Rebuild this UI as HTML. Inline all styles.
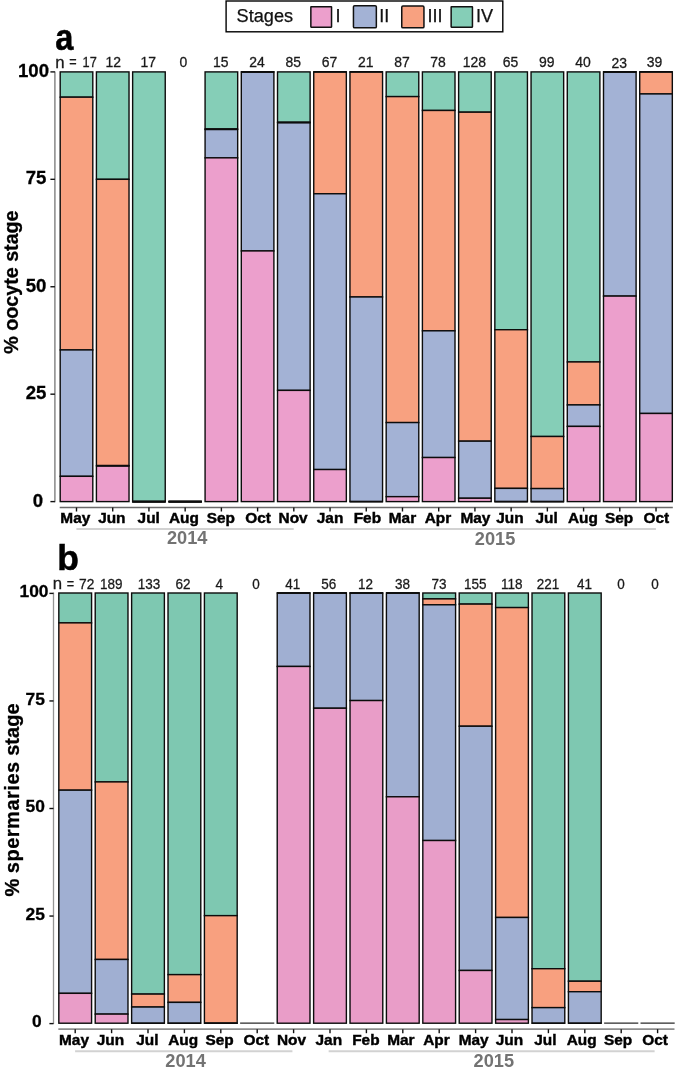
<!DOCTYPE html>
<html lang="en">
<head>
<meta charset="utf-8">
<title>Oocyte and spermaries stages</title>
<style>
html,body{margin:0;padding:0;background:#fff;}
body{width:675px;height:1074px;overflow:hidden;}
svg{display:block;}
</style>
</head>
<body>
<svg width="675" height="1074" viewBox="0 0 675 1074" font-family="'Liberation Sans', Arial, sans-serif">
<rect width="675" height="1074" fill="#fff"/>
<g id="legend">
<rect x="226.1" y="1.0" width="276.7" height="30.8" fill="#fff" stroke="#000" stroke-width="1.4"/>
<text x="236.6" y="22.3" font-size="18.15" fill="#111" stroke="#111" stroke-width="0.25">Stages</text>
<rect x="310.85" y="6.65" width="20.7" height="20.5" rx="0.3" fill="#EC9FCC" stroke="#111" stroke-width="1.5"/>
<text x="335.6" y="22.3" font-size="18.15" fill="#111" stroke="#111" stroke-width="0.25">I</text>
<rect x="353.45" y="5.65" width="22.9" height="22.2" rx="1.2" fill="#A3B2D5" stroke="#111" stroke-width="1.5"/>
<text x="379.3" y="22.3" font-size="18.15" fill="#111" stroke="#111" stroke-width="0.25">II</text>
<rect x="401.75" y="5.95" width="22.2" height="21.9" rx="1.2" fill="#F8A180" stroke="#111" stroke-width="1.5"/>
<text x="427.4" y="22.3" font-size="18.15" fill="#111" stroke="#111" stroke-width="0.25">III</text>
<rect x="451.15" y="6.65" width="21.3" height="20.5" rx="0.3" fill="#85CEB7" stroke="#111" stroke-width="1.5"/>
<text x="475.9" y="22.3" font-size="18.15" fill="#111" stroke="#111" stroke-width="0.25">IV</text>
</g>
<g id="panel-a">
<text transform="translate(55.3,50.1) scale(0.9,1)" font-size="36.2" font-weight="bold" fill="#000" stroke="#000" stroke-width="0.5">a</text>
<line x1="54.9" y1="71.4" x2="54.9" y2="502.3" stroke="#7f7f7f" stroke-width="1.4"/>
<line x1="50.4" y1="501.60" x2="54.9" y2="501.60" stroke="#111" stroke-width="1.4"/>
<text x="38.00" y="506.60" font-size="18.6" font-weight="bold" text-anchor="middle" fill="#000" stroke="#000" stroke-width="0.3">0</text>
<line x1="50.4" y1="394.18" x2="54.9" y2="394.18" stroke="#111" stroke-width="1.4"/>
<text x="36.00" y="399.18" font-size="18.6" font-weight="bold" text-anchor="middle" fill="#000" stroke="#000" stroke-width="0.3">25</text>
<line x1="50.4" y1="286.75" x2="54.9" y2="286.75" stroke="#111" stroke-width="1.4"/>
<text x="36.00" y="291.75" font-size="18.6" font-weight="bold" text-anchor="middle" fill="#000" stroke="#000" stroke-width="0.3">50</text>
<line x1="50.4" y1="179.32" x2="54.9" y2="179.32" stroke="#111" stroke-width="1.4"/>
<text x="36.00" y="184.32" font-size="18.6" font-weight="bold" text-anchor="middle" fill="#000" stroke="#000" stroke-width="0.3">75</text>
<line x1="50.4" y1="71.90" x2="54.9" y2="71.90" stroke="#111" stroke-width="1.4"/>
<text x="33.50" y="76.90" font-size="18.6" font-weight="bold" text-anchor="middle" fill="#000" stroke="#000" stroke-width="0.3">100</text>
<text transform="translate(17.9,282.1) rotate(-90) scale(0.9563,1)" font-size="20.6" font-weight="bold" text-anchor="middle" fill="#000" stroke="#000" stroke-width="0.3">% oocyte stage</text>
<line x1="59.70" y1="507.5" x2="672.82" y2="507.5" stroke="#6a6a6a" stroke-width="1.3"/>
<line x1="76.50" y1="507.5" x2="76.50" y2="511.5" stroke="#111" stroke-width="1.4"/>
<text x="75.30" y="522.6" font-size="15.4" font-weight="bold" text-anchor="middle" fill="#000" stroke="#000" stroke-width="0.45">May</text>
<line x1="112.72" y1="507.5" x2="112.72" y2="511.5" stroke="#111" stroke-width="1.4"/>
<text x="111.82" y="522.6" font-size="15.4" font-weight="bold" text-anchor="middle" fill="#000" stroke="#000" stroke-width="0.45">Jun</text>
<line x1="148.94" y1="507.5" x2="148.94" y2="511.5" stroke="#111" stroke-width="1.4"/>
<text x="148.74" y="522.6" font-size="15.4" font-weight="bold" text-anchor="middle" fill="#000" stroke="#000" stroke-width="0.45">Jul</text>
<line x1="185.16" y1="507.5" x2="185.16" y2="511.5" stroke="#111" stroke-width="1.4"/>
<text x="183.96" y="522.6" font-size="15.4" font-weight="bold" text-anchor="middle" fill="#000" stroke="#000" stroke-width="0.45">Aug</text>
<line x1="221.38" y1="507.5" x2="221.38" y2="511.5" stroke="#111" stroke-width="1.4"/>
<text x="220.88" y="522.6" font-size="15.4" font-weight="bold" text-anchor="middle" fill="#000" stroke="#000" stroke-width="0.45">Sep</text>
<line x1="257.60" y1="507.5" x2="257.60" y2="511.5" stroke="#111" stroke-width="1.4"/>
<text x="258.10" y="522.6" font-size="15.4" font-weight="bold" text-anchor="middle" fill="#000" stroke="#000" stroke-width="0.45">Oct</text>
<line x1="293.82" y1="507.5" x2="293.82" y2="511.5" stroke="#111" stroke-width="1.4"/>
<text x="293.12" y="522.6" font-size="15.4" font-weight="bold" text-anchor="middle" fill="#000" stroke="#000" stroke-width="0.45">Nov</text>
<line x1="330.04" y1="507.5" x2="330.04" y2="511.5" stroke="#111" stroke-width="1.4"/>
<text x="330.04" y="522.6" font-size="15.4" font-weight="bold" text-anchor="middle" fill="#000" stroke="#000" stroke-width="0.45">Jan</text>
<line x1="366.26" y1="507.5" x2="366.26" y2="511.5" stroke="#111" stroke-width="1.4"/>
<text x="367.36" y="522.6" font-size="15.4" font-weight="bold" text-anchor="middle" fill="#000" stroke="#000" stroke-width="0.45">Feb</text>
<line x1="402.48" y1="507.5" x2="402.48" y2="511.5" stroke="#111" stroke-width="1.4"/>
<text x="402.48" y="522.6" font-size="15.4" font-weight="bold" text-anchor="middle" fill="#000" stroke="#000" stroke-width="0.45">Mar</text>
<line x1="438.70" y1="507.5" x2="438.70" y2="511.5" stroke="#111" stroke-width="1.4"/>
<text x="438.00" y="522.6" font-size="15.4" font-weight="bold" text-anchor="middle" fill="#000" stroke="#000" stroke-width="0.45">Apr</text>
<line x1="474.92" y1="507.5" x2="474.92" y2="511.5" stroke="#111" stroke-width="1.4"/>
<text x="475.42" y="522.6" font-size="15.4" font-weight="bold" text-anchor="middle" fill="#000" stroke="#000" stroke-width="0.45">May</text>
<line x1="511.14" y1="507.5" x2="511.14" y2="511.5" stroke="#111" stroke-width="1.4"/>
<text x="509.94" y="522.6" font-size="15.4" font-weight="bold" text-anchor="middle" fill="#000" stroke="#000" stroke-width="0.45">Jun</text>
<line x1="547.36" y1="507.5" x2="547.36" y2="511.5" stroke="#111" stroke-width="1.4"/>
<text x="546.66" y="522.6" font-size="15.4" font-weight="bold" text-anchor="middle" fill="#000" stroke="#000" stroke-width="0.45">Jul</text>
<line x1="583.58" y1="507.5" x2="583.58" y2="511.5" stroke="#111" stroke-width="1.4"/>
<text x="582.88" y="522.6" font-size="15.4" font-weight="bold" text-anchor="middle" fill="#000" stroke="#000" stroke-width="0.45">Aug</text>
<line x1="619.80" y1="507.5" x2="619.80" y2="511.5" stroke="#111" stroke-width="1.4"/>
<text x="619.10" y="522.6" font-size="15.4" font-weight="bold" text-anchor="middle" fill="#000" stroke="#000" stroke-width="0.45">Sep</text>
<line x1="656.02" y1="507.5" x2="656.02" y2="511.5" stroke="#111" stroke-width="1.4"/>
<text x="656.32" y="522.6" font-size="15.4" font-weight="bold" text-anchor="middle" fill="#000" stroke="#000" stroke-width="0.45">Oct</text>
<line x1="76.40" y1="529.0" x2="293.72" y2="529.0" stroke="#d2d2d2" stroke-width="1.9"/>
<text x="187.16" y="544.3" font-size="18.2" font-weight="bold" text-anchor="middle" fill="#737373">2014</text>
<line x1="329.94" y1="529.0" x2="655.92" y2="529.0" stroke="#d2d2d2" stroke-width="1.9"/>
<text x="495.03" y="545.0999999999999" font-size="18.2" font-weight="bold" text-anchor="middle" fill="#737373">2015</text>
<text y="67.3" font-size="15" fill="#1a1a1a" stroke="#1a1a1a" stroke-width="0.3"><tspan x="55.2" dy="0.6" font-size="16.8">n </tspan><tspan x="69.2" dy="-0.6" textLength="7.4" lengthAdjust="spacingAndGlyphs">=</tspan><tspan> </tspan><tspan x="82.6" textLength="14.2" lengthAdjust="spacingAndGlyphs">17</tspan></text>
<rect x="60.20" y="71.90" width="32.60" height="25.28" fill="#85CEB7" stroke="#0c0c0c" stroke-width="1.4"/>
<rect x="60.20" y="97.18" width="32.60" height="252.76" fill="#F8A180" stroke="#0c0c0c" stroke-width="1.4"/>
<rect x="60.20" y="349.94" width="32.60" height="126.38" fill="#A3B2D5" stroke="#0c0c0c" stroke-width="1.4"/>
<rect x="60.20" y="476.32" width="32.60" height="25.28" fill="#EC9FCC" stroke="#0c0c0c" stroke-width="1.4"/>
<text transform="translate(113.22,67.30) scale(0.93,1)" font-size="15" text-anchor="middle" fill="#1a1a1a" stroke="#1a1a1a" stroke-width="0.3">12</text>
<rect x="96.42" y="71.90" width="32.60" height="107.43" fill="#85CEB7" stroke="#0c0c0c" stroke-width="1.4"/>
<rect x="96.42" y="179.32" width="32.60" height="286.47" fill="#F8A180" stroke="#0c0c0c" stroke-width="1.4"/>
<rect x="96.42" y="465.79" width="32.60" height="35.81" fill="#EC9FCC" stroke="#0c0c0c" stroke-width="1.4"/>
<line x1="96.07" y1="465.79" x2="129.37" y2="465.79" stroke="#0c0c0c" stroke-width="1.9"/>
<text transform="translate(148.34,67.30) scale(0.93,1)" font-size="15" text-anchor="middle" fill="#1a1a1a" stroke="#1a1a1a" stroke-width="0.3">17</text>
<rect x="132.64" y="71.90" width="32.60" height="429.70" fill="#85CEB7" stroke="#0c0c0c" stroke-width="1.4"/>
<line x1="132.29" y1="501.60" x2="165.59" y2="501.60" stroke="#0c0c0c" stroke-width="1.9"/>
<line x1="132.29" y1="501.60" x2="165.59" y2="501.60" stroke="#0c0c0c" stroke-width="1.9"/>
<line x1="132.29" y1="501.60" x2="165.59" y2="501.60" stroke="#0c0c0c" stroke-width="1.9"/>
<text transform="translate(183.36,67.30) scale(0.93,1)" font-size="15" text-anchor="middle" fill="#1a1a1a" stroke="#1a1a1a" stroke-width="0.3">0</text>
<line x1="168.51" y1="501.60" x2="201.81" y2="501.60" stroke="#0c0c0c" stroke-width="1.9"/>
<line x1="168.51" y1="501.60" x2="201.81" y2="501.60" stroke="#0c0c0c" stroke-width="1.9"/>
<line x1="168.51" y1="501.60" x2="201.81" y2="501.60" stroke="#0c0c0c" stroke-width="1.9"/>
<line x1="168.51" y1="501.60" x2="201.81" y2="501.60" stroke="#0c0c0c" stroke-width="1.9"/>
<text transform="translate(220.78,67.30) scale(0.93,1)" font-size="15" text-anchor="middle" fill="#1a1a1a" stroke="#1a1a1a" stroke-width="0.3">15</text>
<rect x="205.08" y="71.90" width="32.60" height="57.29" fill="#85CEB7" stroke="#0c0c0c" stroke-width="1.4"/>
<rect x="205.08" y="129.19" width="32.60" height="28.65" fill="#A3B2D5" stroke="#0c0c0c" stroke-width="1.4"/>
<rect x="205.08" y="157.84" width="32.60" height="343.76" fill="#EC9FCC" stroke="#0c0c0c" stroke-width="1.4"/>
<line x1="204.73" y1="129.19" x2="238.03" y2="129.19" stroke="#0c0c0c" stroke-width="1.9"/>
<text transform="translate(257.00,67.30) scale(0.93,1)" font-size="15" text-anchor="middle" fill="#1a1a1a" stroke="#1a1a1a" stroke-width="0.3">24</text>
<rect x="241.30" y="71.90" width="32.60" height="179.04" fill="#A3B2D5" stroke="#0c0c0c" stroke-width="1.4"/>
<rect x="241.30" y="250.94" width="32.60" height="250.66" fill="#EC9FCC" stroke="#0c0c0c" stroke-width="1.4"/>
<line x1="240.95" y1="71.90" x2="274.25" y2="71.90" stroke="#0c0c0c" stroke-width="1.9"/>
<line x1="240.95" y1="71.90" x2="274.25" y2="71.90" stroke="#0c0c0c" stroke-width="1.9"/>
<text transform="translate(293.22,67.30) scale(0.93,1)" font-size="15" text-anchor="middle" fill="#1a1a1a" stroke="#1a1a1a" stroke-width="0.3">85</text>
<rect x="277.52" y="71.90" width="32.60" height="50.55" fill="#85CEB7" stroke="#0c0c0c" stroke-width="1.4"/>
<rect x="277.52" y="122.45" width="32.60" height="267.93" fill="#A3B2D5" stroke="#0c0c0c" stroke-width="1.4"/>
<rect x="277.52" y="390.38" width="32.60" height="111.22" fill="#EC9FCC" stroke="#0c0c0c" stroke-width="1.4"/>
<line x1="277.17" y1="122.45" x2="310.47" y2="122.45" stroke="#0c0c0c" stroke-width="1.9"/>
<text transform="translate(329.44,67.30) scale(0.93,1)" font-size="15" text-anchor="middle" fill="#1a1a1a" stroke="#1a1a1a" stroke-width="0.3">67</text>
<rect x="313.74" y="71.90" width="32.60" height="121.86" fill="#F8A180" stroke="#0c0c0c" stroke-width="1.4"/>
<rect x="313.74" y="193.76" width="32.60" height="275.78" fill="#A3B2D5" stroke="#0c0c0c" stroke-width="1.4"/>
<rect x="313.74" y="469.53" width="32.60" height="32.07" fill="#EC9FCC" stroke="#0c0c0c" stroke-width="1.4"/>
<line x1="313.39" y1="71.90" x2="346.69" y2="71.90" stroke="#0c0c0c" stroke-width="1.9"/>
<text transform="translate(365.66,67.30) scale(0.93,1)" font-size="15" text-anchor="middle" fill="#1a1a1a" stroke="#1a1a1a" stroke-width="0.3">21</text>
<rect x="349.96" y="71.90" width="32.60" height="225.08" fill="#F8A180" stroke="#0c0c0c" stroke-width="1.4"/>
<rect x="349.96" y="296.98" width="32.60" height="204.62" fill="#A3B2D5" stroke="#0c0c0c" stroke-width="1.4"/>
<line x1="349.61" y1="71.90" x2="382.91" y2="71.90" stroke="#0c0c0c" stroke-width="1.9"/>
<line x1="349.61" y1="501.60" x2="382.91" y2="501.60" stroke="#0c0c0c" stroke-width="1.9"/>
<text transform="translate(401.88,67.30) scale(0.93,1)" font-size="15" text-anchor="middle" fill="#1a1a1a" stroke="#1a1a1a" stroke-width="0.3">87</text>
<rect x="386.18" y="71.90" width="32.60" height="24.70" fill="#85CEB7" stroke="#0c0c0c" stroke-width="1.4"/>
<rect x="386.18" y="96.60" width="32.60" height="325.98" fill="#F8A180" stroke="#0c0c0c" stroke-width="1.4"/>
<rect x="386.18" y="422.57" width="32.60" height="74.09" fill="#A3B2D5" stroke="#0c0c0c" stroke-width="1.4"/>
<rect x="386.18" y="496.66" width="32.60" height="4.94" fill="#EC9FCC" stroke="#0c0c0c" stroke-width="1.4"/>
<text transform="translate(438.10,67.30) scale(0.93,1)" font-size="15" text-anchor="middle" fill="#1a1a1a" stroke="#1a1a1a" stroke-width="0.3">78</text>
<rect x="422.40" y="71.90" width="32.60" height="38.56" fill="#85CEB7" stroke="#0c0c0c" stroke-width="1.4"/>
<rect x="422.40" y="110.46" width="32.60" height="220.36" fill="#F8A180" stroke="#0c0c0c" stroke-width="1.4"/>
<rect x="422.40" y="330.82" width="32.60" height="126.71" fill="#A3B2D5" stroke="#0c0c0c" stroke-width="1.4"/>
<rect x="422.40" y="457.53" width="32.60" height="44.07" fill="#EC9FCC" stroke="#0c0c0c" stroke-width="1.4"/>
<text transform="translate(474.32,67.30) scale(0.93,1)" font-size="15" text-anchor="middle" fill="#1a1a1a" stroke="#1a1a1a" stroke-width="0.3">128</text>
<rect x="458.62" y="71.90" width="32.60" height="40.28" fill="#85CEB7" stroke="#0c0c0c" stroke-width="1.4"/>
<rect x="458.62" y="112.18" width="32.60" height="328.99" fill="#F8A180" stroke="#0c0c0c" stroke-width="1.4"/>
<rect x="458.62" y="441.17" width="32.60" height="57.07" fill="#A3B2D5" stroke="#0c0c0c" stroke-width="1.4"/>
<rect x="458.62" y="498.24" width="32.60" height="3.36" fill="#EC9FCC" stroke="#0c0c0c" stroke-width="1.4"/>
<text transform="translate(510.54,67.30) scale(0.93,1)" font-size="15" text-anchor="middle" fill="#1a1a1a" stroke="#1a1a1a" stroke-width="0.3">65</text>
<rect x="494.84" y="71.90" width="32.60" height="257.82" fill="#85CEB7" stroke="#0c0c0c" stroke-width="1.4"/>
<rect x="494.84" y="329.72" width="32.60" height="158.66" fill="#F8A180" stroke="#0c0c0c" stroke-width="1.4"/>
<rect x="494.84" y="488.38" width="32.60" height="13.22" fill="#A3B2D5" stroke="#0c0c0c" stroke-width="1.4"/>
<line x1="494.49" y1="501.60" x2="527.79" y2="501.60" stroke="#0c0c0c" stroke-width="1.9"/>
<text transform="translate(546.76,67.30) scale(0.93,1)" font-size="15" text-anchor="middle" fill="#1a1a1a" stroke="#1a1a1a" stroke-width="0.3">99</text>
<rect x="531.06" y="71.90" width="32.60" height="364.59" fill="#85CEB7" stroke="#0c0c0c" stroke-width="1.4"/>
<rect x="531.06" y="436.49" width="32.60" height="52.08" fill="#F8A180" stroke="#0c0c0c" stroke-width="1.4"/>
<rect x="531.06" y="488.58" width="32.60" height="13.02" fill="#A3B2D5" stroke="#0c0c0c" stroke-width="1.4"/>
<line x1="530.71" y1="501.60" x2="564.01" y2="501.60" stroke="#0c0c0c" stroke-width="1.9"/>
<text transform="translate(582.98,67.30) scale(0.93,1)" font-size="15" text-anchor="middle" fill="#1a1a1a" stroke="#1a1a1a" stroke-width="0.3">40</text>
<rect x="567.28" y="71.90" width="32.60" height="290.05" fill="#85CEB7" stroke="#0c0c0c" stroke-width="1.4"/>
<rect x="567.28" y="361.95" width="32.60" height="42.97" fill="#F8A180" stroke="#0c0c0c" stroke-width="1.4"/>
<rect x="567.28" y="404.92" width="32.60" height="21.49" fill="#A3B2D5" stroke="#0c0c0c" stroke-width="1.4"/>
<rect x="567.28" y="426.40" width="32.60" height="75.20" fill="#EC9FCC" stroke="#0c0c0c" stroke-width="1.4"/>
<text transform="translate(619.20,68.00) scale(0.93,1)" font-size="15" text-anchor="middle" fill="#1a1a1a" stroke="#1a1a1a" stroke-width="0.3">23</text>
<rect x="603.50" y="71.90" width="32.60" height="224.19" fill="#A3B2D5" stroke="#0c0c0c" stroke-width="1.4"/>
<rect x="603.50" y="296.09" width="32.60" height="205.51" fill="#EC9FCC" stroke="#0c0c0c" stroke-width="1.4"/>
<line x1="603.15" y1="71.90" x2="636.45" y2="71.90" stroke="#0c0c0c" stroke-width="1.9"/>
<line x1="603.15" y1="71.90" x2="636.45" y2="71.90" stroke="#0c0c0c" stroke-width="1.9"/>
<text transform="translate(654.42,66.90) scale(0.93,1)" font-size="15" text-anchor="middle" fill="#1a1a1a" stroke="#1a1a1a" stroke-width="0.3">39</text>
<rect x="639.72" y="71.90" width="32.60" height="22.04" fill="#F8A180" stroke="#0c0c0c" stroke-width="1.4"/>
<rect x="639.72" y="93.94" width="32.60" height="319.52" fill="#A3B2D5" stroke="#0c0c0c" stroke-width="1.4"/>
<rect x="639.72" y="413.46" width="32.60" height="88.14" fill="#EC9FCC" stroke="#0c0c0c" stroke-width="1.4"/>
<line x1="639.37" y1="71.90" x2="672.67" y2="71.90" stroke="#0c0c0c" stroke-width="1.9"/>
</g>
<g id="panel-b">
<text transform="translate(57.3,569.6) scale(1,1)" font-size="35.5" font-weight="bold" fill="#000" stroke="#000" stroke-width="0.5">b</text>
<line x1="53.5" y1="592.5" x2="53.5" y2="1023.9000000000001" stroke="#959595" stroke-width="1.3"/>
<line x1="49.4" y1="1023.60" x2="53.5" y2="1023.60" stroke="#111" stroke-width="1.4"/>
<text x="36.90" y="1027.40" font-size="17.4" font-weight="bold" text-anchor="middle" fill="#000" stroke="#000" stroke-width="0.3">0</text>
<line x1="49.4" y1="916.05" x2="53.5" y2="916.05" stroke="#111" stroke-width="1.4"/>
<text x="35.20" y="919.85" font-size="17.4" font-weight="bold" text-anchor="middle" fill="#000" stroke="#000" stroke-width="0.3">25</text>
<line x1="49.4" y1="808.50" x2="53.5" y2="808.50" stroke="#111" stroke-width="1.4"/>
<text x="35.20" y="812.30" font-size="17.4" font-weight="bold" text-anchor="middle" fill="#000" stroke="#000" stroke-width="0.3">50</text>
<line x1="49.4" y1="700.95" x2="53.5" y2="700.95" stroke="#111" stroke-width="1.4"/>
<text x="35.20" y="704.75" font-size="17.4" font-weight="bold" text-anchor="middle" fill="#000" stroke="#000" stroke-width="0.3">75</text>
<line x1="49.4" y1="593.40" x2="53.5" y2="593.40" stroke="#111" stroke-width="1.4"/>
<text x="34.00" y="597.20" font-size="17.4" font-weight="bold" text-anchor="middle" fill="#000" stroke="#000" stroke-width="0.3">100</text>
<text transform="translate(18.5,800.0) rotate(-90) scale(0.9733,1)" font-size="20.6" font-weight="bold" text-anchor="middle" fill="#000" stroke="#000" stroke-width="0.3">% <tspan letter-spacing="0.5">spermaries</tspan> stage</text>
<line x1="58.32" y1="1029.2" x2="674.48" y2="1029.2" stroke="#8e8e8e" stroke-width="1.7"/>
<line x1="75.20" y1="1029.2" x2="75.20" y2="1033.2" stroke="#111" stroke-width="1.4"/>
<text x="74.00" y="1045" font-size="15.4" font-weight="bold" text-anchor="middle" fill="#000" stroke="#000" stroke-width="0.45">May</text>
<line x1="111.60" y1="1029.2" x2="111.60" y2="1033.2" stroke="#111" stroke-width="1.4"/>
<text x="110.40" y="1045" font-size="15.4" font-weight="bold" text-anchor="middle" fill="#000" stroke="#000" stroke-width="0.45">Jun</text>
<line x1="148.00" y1="1029.2" x2="148.00" y2="1033.2" stroke="#111" stroke-width="1.4"/>
<text x="147.40" y="1045" font-size="15.4" font-weight="bold" text-anchor="middle" fill="#000" stroke="#000" stroke-width="0.45">Jul</text>
<line x1="184.40" y1="1029.2" x2="184.40" y2="1033.2" stroke="#111" stroke-width="1.4"/>
<text x="183.20" y="1045" font-size="15.4" font-weight="bold" text-anchor="middle" fill="#000" stroke="#000" stroke-width="0.45">Aug</text>
<line x1="220.80" y1="1029.2" x2="220.80" y2="1033.2" stroke="#111" stroke-width="1.4"/>
<text x="219.60" y="1045" font-size="15.4" font-weight="bold" text-anchor="middle" fill="#000" stroke="#000" stroke-width="0.45">Sep</text>
<line x1="257.20" y1="1029.2" x2="257.20" y2="1033.2" stroke="#111" stroke-width="1.4"/>
<text x="256.40" y="1045" font-size="15.4" font-weight="bold" text-anchor="middle" fill="#000" stroke="#000" stroke-width="0.45">Oct</text>
<line x1="293.60" y1="1029.2" x2="293.60" y2="1033.2" stroke="#111" stroke-width="1.4"/>
<text x="291.50" y="1045" font-size="15.4" font-weight="bold" text-anchor="middle" fill="#000" stroke="#000" stroke-width="0.45">Nov</text>
<line x1="330.00" y1="1029.2" x2="330.00" y2="1033.2" stroke="#111" stroke-width="1.4"/>
<text x="328.80" y="1045" font-size="15.4" font-weight="bold" text-anchor="middle" fill="#000" stroke="#000" stroke-width="0.45">Jan</text>
<line x1="366.40" y1="1029.2" x2="366.40" y2="1033.2" stroke="#111" stroke-width="1.4"/>
<text x="365.90" y="1045" font-size="15.4" font-weight="bold" text-anchor="middle" fill="#000" stroke="#000" stroke-width="0.45">Feb</text>
<line x1="402.80" y1="1029.2" x2="402.80" y2="1033.2" stroke="#111" stroke-width="1.4"/>
<text x="400.90" y="1045" font-size="15.4" font-weight="bold" text-anchor="middle" fill="#000" stroke="#000" stroke-width="0.45">Mar</text>
<line x1="439.20" y1="1029.2" x2="439.20" y2="1033.2" stroke="#111" stroke-width="1.4"/>
<text x="436.40" y="1045" font-size="15.4" font-weight="bold" text-anchor="middle" fill="#000" stroke="#000" stroke-width="0.45">Apr</text>
<line x1="475.60" y1="1029.2" x2="475.60" y2="1033.2" stroke="#111" stroke-width="1.4"/>
<text x="473.70" y="1045" font-size="15.4" font-weight="bold" text-anchor="middle" fill="#000" stroke="#000" stroke-width="0.45">May</text>
<line x1="512.00" y1="1029.2" x2="512.00" y2="1033.2" stroke="#111" stroke-width="1.4"/>
<text x="509.40" y="1045" font-size="15.4" font-weight="bold" text-anchor="middle" fill="#000" stroke="#000" stroke-width="0.45">Jun</text>
<line x1="548.40" y1="1029.2" x2="548.40" y2="1033.2" stroke="#111" stroke-width="1.4"/>
<text x="545.40" y="1045" font-size="15.4" font-weight="bold" text-anchor="middle" fill="#000" stroke="#000" stroke-width="0.45">Jul</text>
<line x1="584.80" y1="1029.2" x2="584.80" y2="1033.2" stroke="#111" stroke-width="1.4"/>
<text x="581.60" y="1045" font-size="15.4" font-weight="bold" text-anchor="middle" fill="#000" stroke="#000" stroke-width="0.45">Aug</text>
<line x1="621.20" y1="1029.2" x2="621.20" y2="1033.2" stroke="#111" stroke-width="1.4"/>
<text x="618.00" y="1045" font-size="15.4" font-weight="bold" text-anchor="middle" fill="#000" stroke="#000" stroke-width="0.45">Sep</text>
<line x1="657.60" y1="1029.2" x2="657.60" y2="1033.2" stroke="#111" stroke-width="1.4"/>
<text x="655.10" y="1045" font-size="15.4" font-weight="bold" text-anchor="middle" fill="#000" stroke="#000" stroke-width="0.45">Oct</text>
<line x1="75.10" y1="1051.3" x2="292.42" y2="1051.3" stroke="#d2d2d2" stroke-width="1.9"/>
<text x="185.56" y="1067" font-size="18.2" font-weight="bold" text-anchor="middle" fill="#737373">2014</text>
<line x1="328.64" y1="1051.3" x2="654.62" y2="1051.3" stroke="#d2d2d2" stroke-width="1.9"/>
<text x="493.83" y="1066.5" font-size="18.2" font-weight="bold" text-anchor="middle" fill="#737373">2015</text>
<text y="588.8" font-size="15" fill="#1a1a1a" stroke="#1a1a1a" stroke-width="0.3"><tspan x="52.7" dy="0.6" font-size="16.8">n </tspan><tspan x="66.8" dy="-0.6" textLength="7.4" lengthAdjust="spacingAndGlyphs">=</tspan><tspan> </tspan><tspan x="79.0" textLength="15.3" lengthAdjust="spacingAndGlyphs">72</tspan></text>
<rect x="58.82" y="593.00" width="32.76" height="29.88" fill="#7EC8B1" stroke="#0c0c0c" stroke-width="1.4"/>
<rect x="58.82" y="622.88" width="32.76" height="167.30" fill="#F8A07F" stroke="#0c0c0c" stroke-width="1.4"/>
<rect x="58.82" y="790.18" width="32.76" height="203.15" fill="#A0AFD2" stroke="#0c0c0c" stroke-width="1.4"/>
<rect x="58.82" y="993.33" width="32.76" height="29.88" fill="#E99DC8" stroke="#0c0c0c" stroke-width="1.4"/>
<text transform="translate(111.30,588.80) scale(0.9,1)" font-size="15" text-anchor="middle" fill="#1a1a1a" stroke="#1a1a1a" stroke-width="0.3">189</text>
<rect x="95.22" y="593.00" width="32.76" height="188.92" fill="#7EC8B1" stroke="#0c0c0c" stroke-width="1.4"/>
<rect x="95.22" y="781.92" width="32.76" height="177.54" fill="#F8A07F" stroke="#0c0c0c" stroke-width="1.4"/>
<rect x="95.22" y="959.47" width="32.76" height="54.63" fill="#A0AFD2" stroke="#0c0c0c" stroke-width="1.4"/>
<rect x="95.22" y="1014.10" width="32.76" height="9.10" fill="#E99DC8" stroke="#0c0c0c" stroke-width="1.4"/>
<text transform="translate(148.90,588.80) scale(0.9,1)" font-size="15" text-anchor="middle" fill="#1a1a1a" stroke="#1a1a1a" stroke-width="0.3">133</text>
<rect x="131.62" y="593.00" width="32.76" height="401.09" fill="#7EC8B1" stroke="#0c0c0c" stroke-width="1.4"/>
<rect x="131.62" y="994.09" width="32.76" height="12.94" fill="#F8A07F" stroke="#0c0c0c" stroke-width="1.4"/>
<rect x="131.62" y="1007.03" width="32.76" height="16.17" fill="#A0AFD2" stroke="#0c0c0c" stroke-width="1.4"/>
<line x1="131.27" y1="1023.20" x2="164.73" y2="1023.20" stroke="#0c0c0c" stroke-width="1.4"/>
<text transform="translate(183.10,588.80) scale(0.9,1)" font-size="15" text-anchor="middle" fill="#1a1a1a" stroke="#1a1a1a" stroke-width="0.3">62</text>
<rect x="168.02" y="593.00" width="32.76" height="381.63" fill="#7EC8B1" stroke="#0c0c0c" stroke-width="1.4"/>
<rect x="168.02" y="974.63" width="32.76" height="27.75" fill="#F8A07F" stroke="#0c0c0c" stroke-width="1.4"/>
<rect x="168.02" y="1002.38" width="32.76" height="20.82" fill="#A0AFD2" stroke="#0c0c0c" stroke-width="1.4"/>
<line x1="167.67" y1="1023.20" x2="201.13" y2="1023.20" stroke="#0c0c0c" stroke-width="1.4"/>
<text transform="translate(219.30,588.80) scale(0.9,1)" font-size="15" text-anchor="middle" fill="#1a1a1a" stroke="#1a1a1a" stroke-width="0.3">4</text>
<rect x="204.42" y="593.00" width="32.76" height="322.65" fill="#7EC8B1" stroke="#0c0c0c" stroke-width="1.4"/>
<rect x="204.42" y="915.65" width="32.76" height="107.55" fill="#F8A07F" stroke="#0c0c0c" stroke-width="1.4"/>
<line x1="204.07" y1="1023.20" x2="237.53" y2="1023.20" stroke="#0c0c0c" stroke-width="1.4"/>
<line x1="204.07" y1="1023.20" x2="237.53" y2="1023.20" stroke="#0c0c0c" stroke-width="1.4"/>
<text transform="translate(255.90,588.80) scale(0.9,1)" font-size="15" text-anchor="middle" fill="#1a1a1a" stroke="#1a1a1a" stroke-width="0.3">0</text>
<line x1="240.12" y1="1023.20" x2="274.28" y2="1023.20" stroke="#2a2a2a" stroke-width="1.3"/>
<text transform="translate(292.70,588.80) scale(0.9,1)" font-size="15" text-anchor="middle" fill="#1a1a1a" stroke="#1a1a1a" stroke-width="0.3">41</text>
<rect x="277.22" y="593.00" width="32.76" height="73.45" fill="#A0AFD2" stroke="#0c0c0c" stroke-width="1.4"/>
<rect x="277.22" y="666.45" width="32.76" height="356.75" fill="#E99DC8" stroke="#0c0c0c" stroke-width="1.4"/>
<line x1="276.87" y1="593.00" x2="310.33" y2="593.00" stroke="#0c0c0c" stroke-width="1.4"/>
<line x1="276.87" y1="593.00" x2="310.33" y2="593.00" stroke="#0c0c0c" stroke-width="1.4"/>
<text transform="translate(328.70,588.80) scale(0.9,1)" font-size="15" text-anchor="middle" fill="#1a1a1a" stroke="#1a1a1a" stroke-width="0.3">56</text>
<rect x="313.62" y="593.00" width="32.76" height="115.23" fill="#A0AFD2" stroke="#0c0c0c" stroke-width="1.4"/>
<rect x="313.62" y="708.23" width="32.76" height="314.97" fill="#E99DC8" stroke="#0c0c0c" stroke-width="1.4"/>
<line x1="313.27" y1="593.00" x2="346.73" y2="593.00" stroke="#0c0c0c" stroke-width="1.4"/>
<line x1="313.27" y1="593.00" x2="346.73" y2="593.00" stroke="#0c0c0c" stroke-width="1.4"/>
<text transform="translate(365.40,588.80) scale(0.9,1)" font-size="15" text-anchor="middle" fill="#1a1a1a" stroke="#1a1a1a" stroke-width="0.3">12</text>
<rect x="350.02" y="593.00" width="32.76" height="107.55" fill="#A0AFD2" stroke="#0c0c0c" stroke-width="1.4"/>
<rect x="350.02" y="700.55" width="32.76" height="322.65" fill="#E99DC8" stroke="#0c0c0c" stroke-width="1.4"/>
<line x1="349.67" y1="593.00" x2="383.13" y2="593.00" stroke="#0c0c0c" stroke-width="1.4"/>
<line x1="349.67" y1="593.00" x2="383.13" y2="593.00" stroke="#0c0c0c" stroke-width="1.4"/>
<text transform="translate(402.50,588.80) scale(0.9,1)" font-size="15" text-anchor="middle" fill="#1a1a1a" stroke="#1a1a1a" stroke-width="0.3">38</text>
<rect x="386.42" y="593.00" width="32.76" height="203.78" fill="#A0AFD2" stroke="#0c0c0c" stroke-width="1.4"/>
<rect x="386.42" y="796.78" width="32.76" height="226.42" fill="#E99DC8" stroke="#0c0c0c" stroke-width="1.4"/>
<line x1="386.07" y1="593.00" x2="419.53" y2="593.00" stroke="#0c0c0c" stroke-width="1.4"/>
<line x1="386.07" y1="593.00" x2="419.53" y2="593.00" stroke="#0c0c0c" stroke-width="1.4"/>
<text transform="translate(438.90,588.80) scale(0.9,1)" font-size="15" text-anchor="middle" fill="#1a1a1a" stroke="#1a1a1a" stroke-width="0.3">73</text>
<rect x="422.82" y="593.00" width="32.76" height="5.89" fill="#7EC8B1" stroke="#0c0c0c" stroke-width="1.4"/>
<rect x="422.82" y="598.89" width="32.76" height="5.89" fill="#F8A07F" stroke="#0c0c0c" stroke-width="1.4"/>
<rect x="422.82" y="604.79" width="32.76" height="235.73" fill="#A0AFD2" stroke="#0c0c0c" stroke-width="1.4"/>
<rect x="422.82" y="840.51" width="32.76" height="182.69" fill="#E99DC8" stroke="#0c0c0c" stroke-width="1.4"/>
<text transform="translate(475.30,588.80) scale(0.9,1)" font-size="15" text-anchor="middle" fill="#1a1a1a" stroke="#1a1a1a" stroke-width="0.3">155</text>
<rect x="459.22" y="593.00" width="32.76" height="11.10" fill="#7EC8B1" stroke="#0c0c0c" stroke-width="1.4"/>
<rect x="459.22" y="604.10" width="32.76" height="122.12" fill="#F8A07F" stroke="#0c0c0c" stroke-width="1.4"/>
<rect x="459.22" y="726.22" width="32.76" height="244.24" fill="#A0AFD2" stroke="#0c0c0c" stroke-width="1.4"/>
<rect x="459.22" y="970.47" width="32.76" height="52.73" fill="#E99DC8" stroke="#0c0c0c" stroke-width="1.4"/>
<text transform="translate(511.70,588.80) scale(0.9,1)" font-size="15" text-anchor="middle" fill="#1a1a1a" stroke="#1a1a1a" stroke-width="0.3">118</text>
<rect x="495.62" y="593.00" width="32.76" height="14.58" fill="#7EC8B1" stroke="#0c0c0c" stroke-width="1.4"/>
<rect x="495.62" y="607.58" width="32.76" height="309.89" fill="#F8A07F" stroke="#0c0c0c" stroke-width="1.4"/>
<rect x="495.62" y="917.47" width="32.76" height="102.08" fill="#A0AFD2" stroke="#0c0c0c" stroke-width="1.4"/>
<rect x="495.62" y="1019.55" width="32.76" height="3.65" fill="#E99DC8" stroke="#0c0c0c" stroke-width="1.4"/>
<text transform="translate(548.10,588.80) scale(0.9,1)" font-size="15" text-anchor="middle" fill="#1a1a1a" stroke="#1a1a1a" stroke-width="0.3">221</text>
<rect x="532.02" y="593.00" width="32.76" height="375.70" fill="#7EC8B1" stroke="#0c0c0c" stroke-width="1.4"/>
<rect x="532.02" y="968.70" width="32.76" height="38.93" fill="#F8A07F" stroke="#0c0c0c" stroke-width="1.4"/>
<rect x="532.02" y="1007.63" width="32.76" height="15.57" fill="#A0AFD2" stroke="#0c0c0c" stroke-width="1.4"/>
<line x1="531.67" y1="1023.20" x2="565.13" y2="1023.20" stroke="#0c0c0c" stroke-width="1.4"/>
<text transform="translate(584.50,588.80) scale(0.9,1)" font-size="15" text-anchor="middle" fill="#1a1a1a" stroke="#1a1a1a" stroke-width="0.3">41</text>
<rect x="568.42" y="593.00" width="32.76" height="388.23" fill="#7EC8B1" stroke="#0c0c0c" stroke-width="1.4"/>
<rect x="568.42" y="981.23" width="32.76" height="10.49" fill="#F8A07F" stroke="#0c0c0c" stroke-width="1.4"/>
<rect x="568.42" y="991.72" width="32.76" height="31.48" fill="#A0AFD2" stroke="#0c0c0c" stroke-width="1.4"/>
<line x1="568.07" y1="1023.20" x2="601.53" y2="1023.20" stroke="#0c0c0c" stroke-width="1.4"/>
<text transform="translate(620.90,588.80) scale(0.9,1)" font-size="15" text-anchor="middle" fill="#1a1a1a" stroke="#1a1a1a" stroke-width="0.3">0</text>
<line x1="604.12" y1="1023.20" x2="638.28" y2="1023.20" stroke="#2a2a2a" stroke-width="1.3"/>
<text transform="translate(654.90,588.80) scale(0.9,1)" font-size="15" text-anchor="middle" fill="#1a1a1a" stroke="#1a1a1a" stroke-width="0.3">0</text>
<line x1="640.52" y1="1023.20" x2="674.68" y2="1023.20" stroke="#2a2a2a" stroke-width="1.3"/>
</g>
</svg>
</body>
</html>
